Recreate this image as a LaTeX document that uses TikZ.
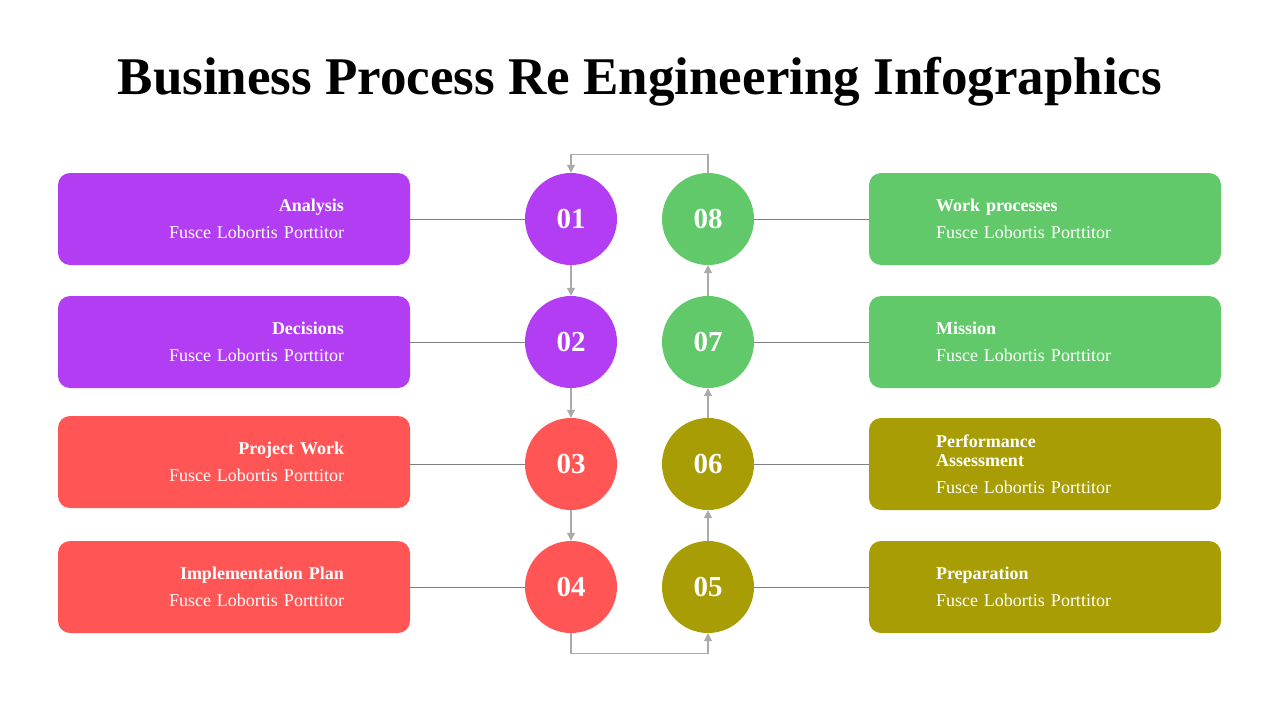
\documentclass[tikz,border=0pt]{standalone}
\usepackage{fontspec}
\setmainfont{Liberation Serif}
\usetikzlibrary{arrows.meta}

\definecolor{stepPurple}{HTML}{B33DF3}
\definecolor{stepRed}{HTML}{FF5555}
\definecolor{stepGreen}{HTML}{62C96A}
\definecolor{stepOlive}{HTML}{A89D04}
\definecolor{linkGray}{HTML}{808080}
\definecolor{flowGray}{HTML}{AAAAAA}

\begin{document}
\begin{tikzpicture}[x=1pt, y=-1pt,
  every node/.style={text=white, font=\fontsize{18}{27}\selectfont},
  leftbox/.style={rectangle, rounded corners=12pt, minimum width=352pt, minimum height=92pt, text width=220pt, align=right},
  rightbox/.style={rectangle, rounded corners=12pt, minimum width=352pt, minimum height=92pt, text width=218pt, align=left},
  stepcircle/.style={circle, minimum size=92pt, inner sep=0pt, font=\fontsize{29}{30}\selectfont\bfseries},
  link/.style={draw=linkGray, line width=0.9pt},
  flow/.style={draw=flowGray, line width=1.1pt, -{Triangle[width=8pt,length=8pt]}}]
  \useasboundingbox (0,0) rectangle (1280,720);

  % Title
  \node[text=black, font=\fontsize{53}{56}\selectfont\bfseries] (title) at (640, 82) {Business Process Re Engineering Infographics};

  % Left boxes
  \node[leftbox, fill=stepPurple] (b1) at (234, 219) {\textbf{Analysis}\\Fusce Lobortis Porttitor};
  \node[leftbox, fill=stepPurple] (b2) at (234, 342) {\textbf{Decisions}\\Fusce Lobortis Porttitor};
  \node[leftbox, fill=stepRed] (b3) at (234, 462) {\textbf{Project Work}\\Fusce Lobortis Porttitor};
  \node[leftbox, fill=stepRed] (b4) at (234, 587) {\textbf{Implementation Plan}\\Fusce Lobortis Porttitor};

  % Right boxes
  \node[rightbox, fill=stepGreen] (b8) at (1045, 219) {\textbf{Work processes}\\Fusce Lobortis Porttitor};
  \node[rightbox, fill=stepGreen] (b7) at (1045, 342) {\textbf{Mission}\\Fusce Lobortis Porttitor};
  \node[rightbox, fill=stepOlive] (b6) at (1045, 464) {\textbf{Performance}\\[-8pt]\textbf{Assessment}\\Fusce Lobortis Porttitor};
  \node[rightbox, fill=stepOlive] (b5) at (1045, 587) {\textbf{Preparation}\\Fusce Lobortis Porttitor};

  % Circles
  \node[stepcircle, fill=stepPurple] (c1) at (571, 219) {01};
  \node[stepcircle, fill=stepPurple] (c2) at (571, 342) {02};
  \node[stepcircle, fill=stepRed] (c3) at (571, 464) {03};
  \node[stepcircle, fill=stepRed] (c4) at (571, 587) {04};
  \node[stepcircle, fill=stepOlive] (c5) at (708, 587) {05};
  \node[stepcircle, fill=stepOlive] (c6) at (708, 464) {06};
  \node[stepcircle, fill=stepGreen] (c7) at (708, 342) {07};
  \node[stepcircle, fill=stepGreen] (c8) at (708, 219) {08};

  % Box to circle links
  \foreach \i in {1,2,3,4} {
    \draw[link] (b\i.east |- c\i) -- (c\i);
  }
  \foreach \i in {5,6,7,8} {
    \draw[link] (c\i) -- (b\i.west |- c\i);
  }

  % Flow between circles
  \draw[flow] (c1) -- (c2);
  \draw[flow] (c2) -- (c3);
  \draw[flow] (c3) -- (c4);
  \draw[flow] (c4.south) -- ++(0, 20) -| (c5.south);
  \draw[flow] (c5) -- (c6);
  \draw[flow] (c6) -- (c7);
  \draw[flow] (c7) -- (c8);
  \draw[flow] (c8.north) -- ++(0, -18) -| (c1.north);
\end{tikzpicture}
\end{document}
